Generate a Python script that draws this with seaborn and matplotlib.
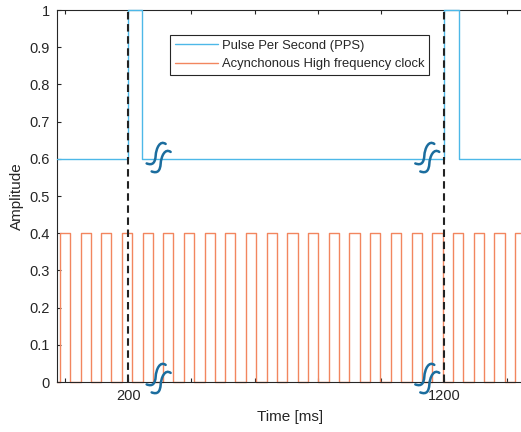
import numpy as np
import pandas as pd
import seaborn as sns
import matplotlib
matplotlib.use("Agg")
import matplotlib.pyplot as plt
from matplotlib.path import Path
from matplotlib.patches import PathPatch
import matplotlib.transforms as mtransforms

# ---------------- data ----------------
x_start, x_end = -25, 1443
pps_low, pps_high = 0.6, 1.0
pps_rise_ms = [200, 1200]
pps_fall_ms = [245, 1246]
clk_low, clk_high = 0.0, 0.4
clk_rise_ms = [-17, 50, 114, 180, 246, 309, 377, 443, 506, 572, 638, 704,
               768, 835, 900, 965, 1031, 1097, 1162, 1227, 1294, 1358, 1424]
clk_high_ms = 33
sync_ms = [200, 1200]
break_x_ms = [295, 1145]
break_y = [0.605, 0.011]
xtick_values = [0, 200, 400, 600, 800, 1000, 1200, 1400]
xtick_labels = ["", "200", "", "", "", "", "1200", ""]
ytick_values = [0, 0.1, 0.2, 0.3, 0.4, 0.5, 0.6, 0.7, 0.8, 0.9, 1.0]
ytick_labels = ["0", "0.1", "0.2", "0.3", "0.4", "0.5", "0.6", "0.7", "0.8", "0.9", "1"]
pps_label = "Pulse Per Second (PPS)"
clk_label = "Acynchonous High frequency clock"


def step_signal(rises, falls, low, high):
    t, a = [x_start], [low]
    for r, f in zip(rises, falls):
        t += [r, r]
        a += [low, high]
        if f >= x_end:
            t.append(x_end)
            a.append(high)
            return pd.DataFrame({"t": t, "amp": a})
        t += [f, f]
        a += [high, low]
    t.append(x_end)
    a.append(low)
    return pd.DataFrame({"t": t, "amp": a})


pps_df = step_signal(pps_rise_ms, pps_fall_ms, pps_low, pps_high)
clk_df = step_signal(clk_rise_ms, [r + clk_high_ms for r in clk_rise_ms], clk_low, clk_high)

# ---------------- style ----------------
sns.set_theme(style="white")
plt.rcParams["font.family"] = ["Liberation Sans", "DejaVu Sans"]
text_col = "#262626"

fig = plt.figure(figsize=(5.21, 4.32), dpi=100)
ax = fig.add_axes([57 / 521, 50 / 432, 464 / 521, 372 / 432])

pps_col = "#4db8e8"
clk_col = "#f2865f"

sns.lineplot(data=clk_df, x="t", y="amp", sort=False, estimator=None, ax=ax,
             color=clk_col, lw=1.0, label=clk_label, zorder=2)
sns.lineplot(data=pps_df, x="t", y="amp", sort=False, estimator=None, ax=ax,
             color=pps_col, lw=1.0, label=pps_label, zorder=3)
for ln in ax.lines:
    ln.set_clip_on(False)

for s in sync_ms:
    ax.axvline(s, color="#222222", lw=1.5, ls=(0, (3.6, 2.2)), zorder=4)

ax.set_xlim(x_start, x_end)
ax.set_ylim(0, 1)
ax.set_xticks(xtick_values)
ax.set_xticklabels(xtick_labels)
ax.set_yticks(ytick_values)
ax.set_yticklabels(ytick_labels)
ax.tick_params(axis="both", direction="in", length=3, width=0.8, colors=text_col,
               labelsize=10.5, top=True, bottom=True, left=True, right=False)
ax.tick_params(axis="x", pad=5)
ax.tick_params(axis="y", pad=5)
for side in ["left", "bottom", "top"]:
    ax.spines[side].set_color(text_col)
    ax.spines[side].set_linewidth(0.8)
ax.spines["right"].set_visible(False)

ax.set_xlabel("Time [ms]", fontsize=11, color=text_col)
ax.set_ylabel("Amplitude", fontsize=11, color=text_col)
ax.xaxis.set_label_coords(0.502, -0.075)
ax.yaxis.set_label_coords(-0.072, 0.5)

# legend
h, l = ax.get_legend_handles_labels()
order = [l.index(pps_label), l.index(clk_label)]
leg = ax.legend([h[i] for i in order], [l[i] for i in order],
                loc="upper left", bbox_to_anchor=((170 - 57) / 464, (382 - 35) / 372),
                fontsize=9.4, frameon=True, fancybox=False, framealpha=1,
                edgecolor=text_col, handlelength=3.3, handletextpad=0.35,
                labelspacing=0.48, borderpad=0.35, borderaxespad=0)
leg.get_frame().set_linewidth(0.8)
for t in leg.get_texts():
    t.set_color(text_col)

# break marks (px offsets, y down) relative to anchor
stroke = [(-11.5, 6.5), (-5, 9), (-3, 5), (-2.5, -1), (-2, -9), (2, -17), (7.5, -13)]
codes = [Path.MOVETO] + [Path.CURVE4] * 6
for bx in break_x_ms:
    for by in break_y:
        trans = fig.dpi_scale_trans + mtransforms.ScaledTranslation(bx, by, ax.transData)
        for dx, dy in [(0, 0), (5, 8)]:
            verts = [((x + dx) / 100.0, -(y + dy) / 100.0) for x, y in stroke]
            patch = PathPatch(Path(verts, codes), transform=trans, fill=False,
                              edgecolor="#1b6d9e", lw=1.8, capstyle="round",
                              clip_on=False, zorder=6)
            fig.add_artist(patch)

fig.savefig("out.png", dpi=100)
